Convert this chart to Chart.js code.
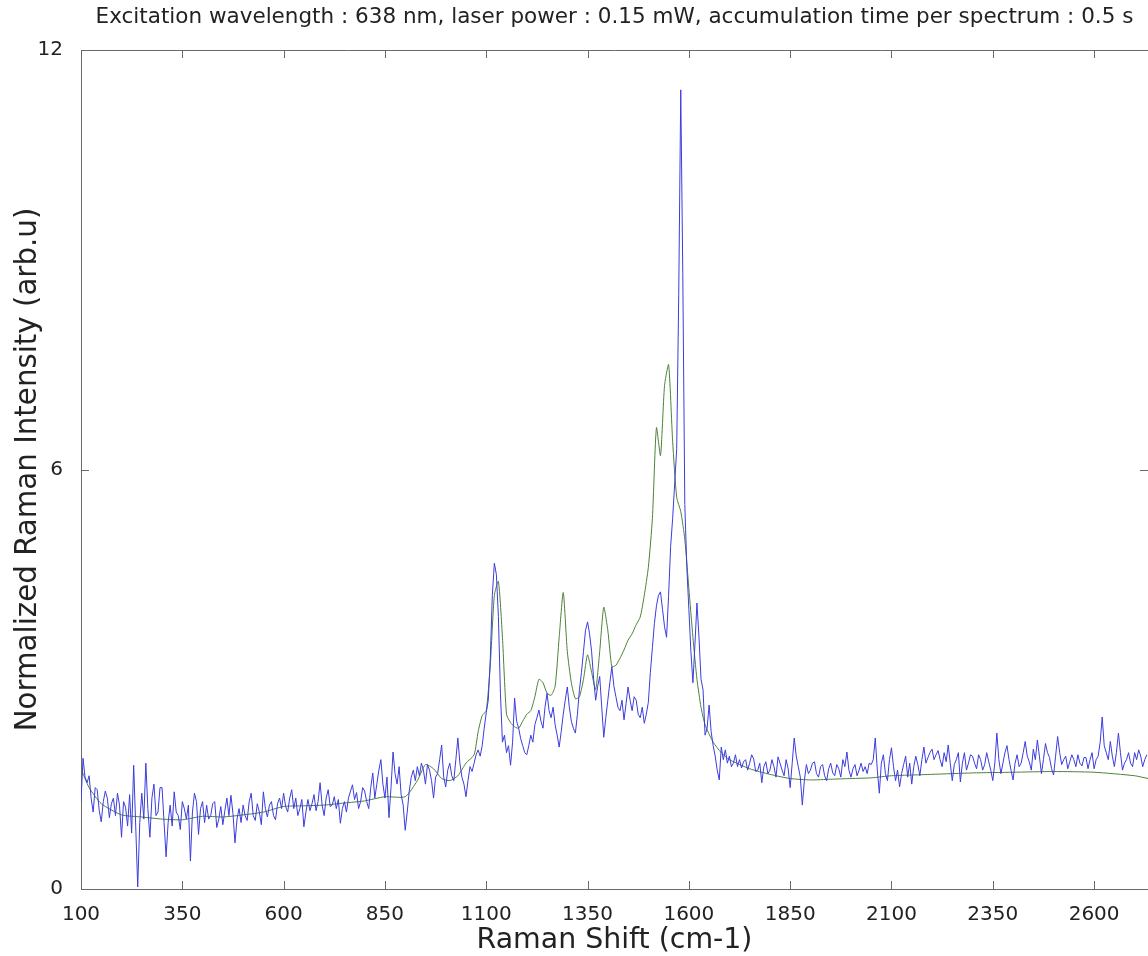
<!DOCTYPE html>
<html>
<head>
<meta charset="utf-8">
<script src="https://cdn.jsdelivr.net/npm/chart.js@4"></script>
<style>
  body { margin: 0; background: #fff; }
  canvas { display: block; }
</style>
</head>
<body>
<canvas id="ramanChart" width="1148" height="956"></canvas>
<script>
const chartTitle = 'Excitation wavelength : 638 nm, laser power : 0.15 mW, accumulation time per spectrum : 0.5 s';
const xTicks = [100, 350, 600, 850, 1100, 1350, 1600, 1850, 2100, 2350, 2600];
const yTicks = [0, 6, 12];

// raw spectrum, sampled every 5 cm-1 from 100 to 2730
const rawShift = [];
for (let s = 100; s <= 2730; s += 5) rawShift.push(s);
const rawIntensity = [
  1.25, 1.87, 1.60, 1.52, 1.62, 1.30, 1.10, 1.45, 1.42, 1.12, 0.96, 1.25, 1.40, 1.30, 1.02, 1.22, 1.30, 1.05, 1.37, 1.20,
  0.74, 1.25, 1.17, 0.90, 1.35, 0.80, 1.77, 0.90, 0.03, 0.95, 1.37, 1.00, 1.80, 1.15, 0.74, 1.30, 1.50, 1.05, 1.10, 1.45,
  1.45, 0.95, 0.46, 0.95, 1.20, 0.90, 1.39, 1.10, 1.05, 0.85, 1.25, 1.15, 1.00, 1.20, 0.40, 1.10, 1.37, 1.25, 0.78, 1.15,
  1.25, 0.95, 1.20, 1.00, 1.05, 1.22, 1.25, 0.88, 1.00, 1.18, 0.92, 1.12, 1.30, 1.05, 1.34, 1.08, 0.66, 1.00, 1.15, 0.95,
  1.20, 1.05, 0.98, 1.25, 1.37, 1.05, 0.98, 1.22, 1.10, 0.92, 1.39, 1.15, 1.03, 1.20, 1.25, 1.05, 0.99, 1.22, 1.30, 1.15,
  1.37, 1.18, 1.10, 1.30, 1.42, 1.15, 1.30, 1.05, 1.15, 1.28, 0.89, 1.10, 1.28, 1.12, 1.22, 1.35, 1.12, 1.25, 1.52, 1.20,
  1.05, 1.30, 1.42, 1.18, 1.20, 1.32, 1.15, 1.28, 0.94, 1.15, 1.25, 1.10, 1.30, 1.40, 1.49, 1.28, 1.38, 1.15, 1.25, 1.45,
  1.40, 1.25, 1.15, 1.45, 1.66, 1.30, 1.50, 1.70, 1.85, 1.50, 1.30, 1.60, 1.02, 1.45, 1.96, 1.65, 1.50, 1.75, 1.35, 1.20,
  0.84, 1.10, 1.40, 1.60, 1.70, 1.55, 1.75, 1.62, 1.80, 1.70, 1.50, 1.78, 1.70, 1.55, 1.30, 1.60, 1.65, 1.85, 2.06, 1.60,
  1.46, 1.70, 1.80, 1.62, 1.55, 1.85, 2.16, 1.80, 1.60, 1.50, 1.32, 1.55, 1.75, 1.68, 1.80, 1.92, 1.99, 1.90, 2.05, 2.30,
  2.52, 2.70, 3.30, 4.20, 4.66, 4.50, 3.90, 2.80, 2.10, 2.20, 1.95, 2.05, 1.77, 2.10, 2.73, 2.40, 2.30, 2.15, 2.05, 1.95,
  1.92, 2.05, 2.20, 2.10, 2.35, 2.45, 2.56, 2.40, 2.30, 2.60, 2.80, 2.55, 2.45, 2.60, 2.35, 2.20, 2.03, 2.25, 2.50, 2.70,
  2.89, 2.60, 2.40, 2.30, 2.23, 2.50, 2.85, 3.10, 3.40, 3.70, 3.82, 3.65, 3.40, 3.00, 2.70, 2.90, 3.04, 2.60, 2.17, 2.45,
  2.70, 2.95, 3.18, 2.90, 2.75, 2.60, 2.55, 2.70, 2.42, 2.65, 2.89, 2.70, 2.55, 2.75, 2.70, 2.50, 2.45, 2.60, 2.37, 2.50,
  2.67, 3.10, 3.45, 3.80, 4.05, 4.20, 4.25, 4.00, 3.75, 3.60, 4.20, 4.90, 5.30, 5.80, 6.30, 8.50, 11.43, 8.80, 5.50, 4.60,
  4.00, 3.40, 2.95, 3.50, 4.09, 3.60, 3.00, 2.85, 2.20, 2.30, 2.63, 2.25, 2.05, 1.90, 1.70, 1.56, 2.03, 1.85, 1.99, 1.80,
  1.90, 1.75, 1.80, 1.92, 1.75, 1.85, 1.73, 1.82, 1.85, 1.70, 1.80, 1.92, 1.86, 1.68, 1.70, 1.80, 1.52, 1.75, 1.82, 1.65,
  1.70, 1.85, 1.75, 1.60, 1.89, 1.80, 1.70, 1.62, 1.85, 1.72, 1.45, 1.80, 2.16, 1.90, 1.75, 1.60, 1.20, 1.55, 1.78, 1.65,
  1.70, 1.80, 1.82, 1.65, 1.60, 1.75, 1.78, 1.62, 1.55, 1.72, 1.80, 1.66, 1.62, 1.78, 1.72, 1.60, 1.85, 1.75, 1.96, 1.70,
  1.60, 1.72, 1.78, 1.62, 1.70, 1.80, 1.68, 1.75, 1.65, 1.80, 1.78, 1.85, 2.16, 1.70, 1.37, 1.80, 1.92, 1.65, 1.55, 1.85,
  2.02, 1.75, 1.55, 1.70, 1.46, 1.65, 1.78, 1.90, 1.60, 1.80, 1.50, 1.75, 1.90, 1.78, 1.62, 1.85, 2.03, 1.80, 1.88, 1.95,
  2.00, 1.85, 1.92, 1.98, 1.85, 1.75, 1.95, 1.82, 2.06, 1.80, 1.55, 1.78, 1.85, 1.95, 1.53, 1.80, 1.95, 1.70, 1.80, 1.92,
  1.90, 1.80, 1.72, 1.92, 1.85, 1.70, 1.78, 1.95, 1.82, 1.70, 1.55, 1.80, 2.23, 1.85, 1.65, 1.80, 1.95, 2.05, 1.85, 1.70,
  1.56, 1.80, 1.92, 1.75, 1.80, 1.95, 2.11, 1.90, 1.82, 1.70, 2.00, 1.85, 2.13, 1.90, 1.65, 1.85, 2.08, 1.95, 1.88, 1.72,
  1.63, 1.90, 2.18, 1.95, 1.78, 1.85, 1.90, 1.72, 1.82, 1.92, 1.85, 1.75, 1.92, 1.80, 1.76, 1.88, 1.88, 1.72, 1.85, 1.95,
  1.72, 1.85, 1.90, 2.10, 2.46, 2.05, 1.95, 1.85, 2.11, 1.90, 1.75, 1.95, 2.23, 1.95, 1.70, 1.80, 1.85, 1.95, 1.80, 1.75,
  1.95, 1.85, 1.99, 1.90, 1.75, 1.85, 1.92
];

// smoothed spectrum
const smoothShift = [
  100, 120, 150, 200, 250, 300, 350, 400, 450, 500,
  550, 600, 650, 700, 750, 800, 850, 900, 930, 950,
  970, 990, 1010, 1030, 1050, 1070, 1080, 1090, 1100, 1110,
  1120, 1130, 1140, 1150, 1160, 1170, 1180, 1190, 1200, 1210,
  1220, 1230, 1240, 1250, 1260, 1270, 1280, 1290, 1300, 1310,
  1320, 1330, 1340, 1350, 1360, 1370, 1380, 1390, 1400, 1410,
  1420, 1430, 1440, 1450, 1460, 1470, 1480, 1490, 1500, 1510,
  1520, 1530, 1540, 1550, 1560, 1570, 1580, 1590, 1600, 1610,
  1620, 1630, 1640, 1660, 1680, 1700, 1750, 1800, 1850, 1900,
  1950, 2000, 2050, 2100, 2150, 2200, 2300, 2400, 2500, 2600,
  2700, 2733
];
const smoothIntensity = [
  1.72, 1.45, 1.22, 1.06, 1.03, 1.00, 0.99, 1.04, 1.03, 1.06,
  1.10, 1.18, 1.19, 1.20, 1.23, 1.26, 1.32, 1.32, 1.55, 1.78,
  1.72, 1.58, 1.55, 1.62, 1.80, 1.92, 2.25, 2.48, 2.55, 3.20,
  4.20, 4.40, 3.60, 2.50, 2.38, 2.32, 2.30, 2.40, 2.50, 2.55,
  2.75, 3.00, 2.95, 2.80, 2.77, 2.90, 3.60, 4.24, 3.40, 2.95,
  2.72, 2.75, 3.00, 3.35, 3.10, 2.85, 3.40, 4.03, 3.70, 3.18,
  3.20, 3.30, 3.42, 3.56, 3.65, 3.78, 3.89, 4.20, 4.60, 5.30,
  6.60, 6.20, 7.20, 7.50, 6.40, 5.60, 5.40, 5.00, 4.30, 3.60,
  3.00, 2.60, 2.35, 2.10, 1.95, 1.85, 1.72, 1.64, 1.58, 1.56,
  1.57, 1.58, 1.59, 1.62, 1.63, 1.64, 1.66, 1.67, 1.68, 1.67,
  1.62, 1.58
];

const textColor = '#222';
const axisColor = '#6a6a6a';

// inward tick marks on all four sides, Octave style
const boxTicks = {
  id: 'boxTicks',
  afterDraw(chart) {
    const { ctx, chartArea: a, scales } = chart;
    const len = 8;
    ctx.save();
    ctx.strokeStyle = axisColor;
    ctx.lineWidth = 1;
    ctx.beginPath();
    ctx.moveTo(a.left, a.top + 0.5);
    ctx.lineTo(a.right, a.top + 0.5);
    scales.x.ticks.forEach(t => {
      const px = Math.round(scales.x.getPixelForValue(t.value)) + 0.5;
      ctx.moveTo(px, a.bottom);
      ctx.lineTo(px, a.bottom - len);
      ctx.moveTo(px, a.top);
      ctx.lineTo(px, a.top + len);
    });
    scales.y.ticks.forEach(t => {
      const py = Math.round(scales.y.getPixelForValue(t.value)) + 0.5;
      ctx.moveTo(a.left, py);
      ctx.lineTo(a.left + len, py);
      ctx.moveTo(a.right, py);
      ctx.lineTo(a.right - len, py);
    });
    ctx.stroke();
    ctx.restore();
  }
};

new Chart(document.getElementById('ramanChart'), {
  type: 'line',
  data: {
    datasets: [
      {
        label: 'raw',
        data: rawShift.map((s, i) => ({ x: s, y: rawIntensity[i] })),
        borderColor: 'rgb(60, 60, 220)',
        borderWidth: 1,
        pointRadius: 0,
        tension: 0,
        fill: false
      },
      {
        label: 'smoothed',
        data: smoothShift.map((s, i) => ({ x: s, y: smoothIntensity[i] })),
        borderColor: 'rgb(75, 130, 55)',
        borderWidth: 1,
        pointRadius: 0,
        tension: 0.2,
        fill: false
      }
    ]
  },
  options: {
    responsive: false,
    animation: false,
    layout: { padding: 0 },
    plugins: {
      legend: { display: false },
      tooltip: { enabled: false },
      title: {
        display: true,
        fullSize: false,
        text: chartTitle,
        color: textColor,
        font: { family: 'DejaVu Sans', size: 21.5, weight: 'normal', lineHeight: 1.2 },
        padding: { top: 5, bottom: 19.2 }
      }
    },
    scales: {
      x: {
        type: 'linear',
        min: 100,
        max: 2733,
        afterBuildTicks: s => { s.ticks = xTicks.map(v => ({ value: v })); },
        afterFit: s => { s.height = 67; },
        grid: { display: false },
        border: { display: true, color: axisColor, width: 1 },
        ticks: {
          color: textColor,
          padding: 6,
          maxRotation: 0,
          autoSkip: false,
          callback: v => String(v),
          font: { family: 'DejaVu Sans', size: 20 }
        },
        title: {
          display: true,
          text: 'Raman Shift (cm-1)',
          color: textColor,
          font: { family: 'DejaVu Sans', size: 28.4, lineHeight: 1.1 },
          padding: { top: 0, bottom: 0 }
        }
      },
      y: {
        min: 0,
        max: 12,
        afterBuildTicks: s => { s.ticks = yTicks.map(v => ({ value: v })); },
        afterFit: s => { s.width = 81; },
        grid: { display: false },
        border: { display: true, color: axisColor, width: 1 },
        ticks: {
          color: textColor,
          padding: 10,
          callback: v => String(v),
          font: { family: 'DejaVu Sans', size: 20 }
        },
        title: {
          display: true,
          text: 'Normalized Raman Intensity (arb.u)',
          color: textColor,
          font: { family: 'DejaVu Sans', size: 29.3, lineHeight: 1.1 },
          padding: { top: 12, bottom: 0 }
        }
      }
    }
  },
  plugins: [boxTicks]
});
</script>
</body>
</html>
